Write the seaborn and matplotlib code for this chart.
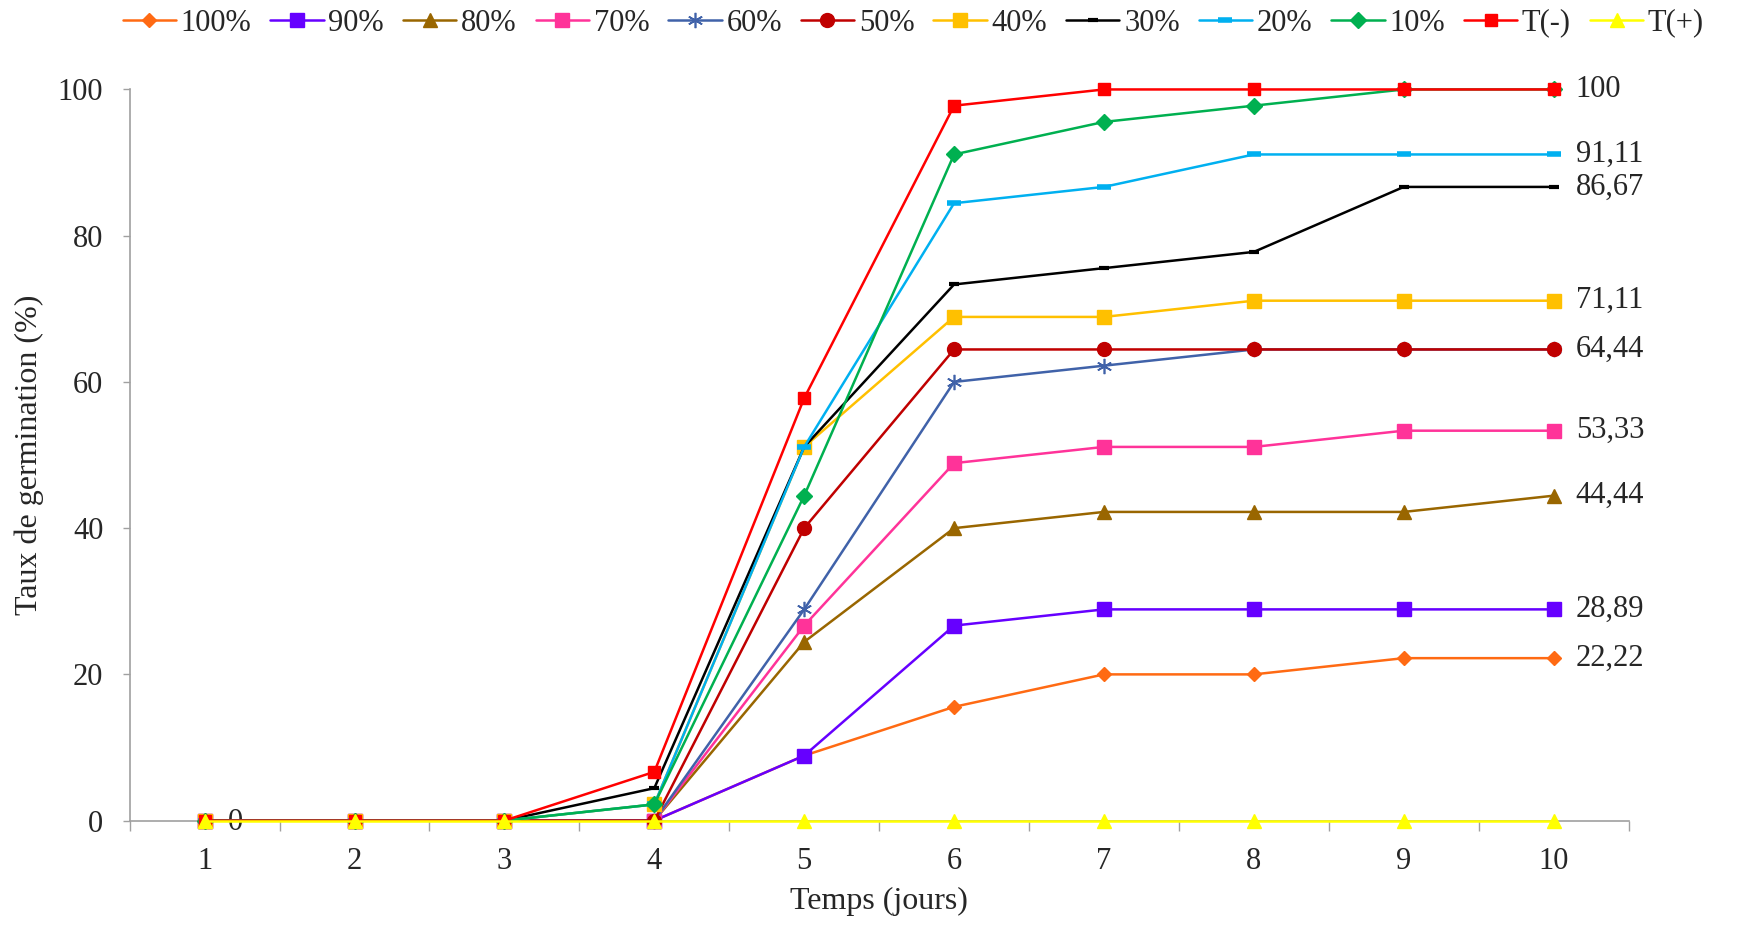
import numpy as np
import pandas as pd
import matplotlib
matplotlib.use("Agg")
import matplotlib.pyplot as plt
import seaborn as sns

# jours d'observation
jours = [1, 2, 3, 4, 5, 6, 7, 8, 9, 10]

# taux de germination (%) par traitement
series_names = ["100%", "90%", "80%", "70%", "60%", "50%", "40%", "30%", "20%", "10%", "T(-)", "T(+)"]
v100 = [0, 0, 0, 0, 8.89, 15.56, 20.00, 20.00, 22.22, 22.22]
v90 = [0, 0, 0, 0, 8.89, 26.67, 28.89, 28.89, 28.89, 28.89]
v80 = [0, 0, 0, 0, 24.44, 40.00, 42.22, 42.22, 42.22, 44.44]
v70 = [0, 0, 0, 0, 26.67, 48.89, 51.11, 51.11, 53.33, 53.33]
v60 = [0, 0, 0, 0, 28.89, 60.00, 62.22, 64.44, 64.44, 64.44]
v50 = [0, 0, 0, 0, 40.00, 64.44, 64.44, 64.44, 64.44, 64.44]
v40 = [0, 0, 0, 2.22, 51.11, 68.89, 68.89, 71.11, 71.11, 71.11]
v30 = [0, 0, 0, 4.44, 51.11, 73.33, 75.56, 77.78, 86.67, 86.67]
v20 = [0, 0, 0, 2.22, 51.11, 84.44, 86.67, 91.11, 91.11, 91.11]
v10 = [0, 0, 0, 2.22, 44.44, 91.11, 95.56, 97.78, 100, 100]
vTm = [0, 0, 0, 6.67, 57.78, 97.78, 100, 100, 100, 100]
vTp = [0, 0, 0, 0, 0, 0, 0, 0, 0, 0]
all_values = [v100, v90, v80, v70, v60, v50, v40, v30, v20, v10, vTm, vTp]

# valeurs affichées en étiquette (fin de courbe)
end_labels = ["100", "91,11", "86,67", "71,11", "64,44", "53,33", "44,44", "28,89", "22,22"]
end_label_vals = [100, 91.11, 86.67, 71.11, 64.44, 53.33, 44.44, 28.89, 22.22]

colors = ["#FF6A13", "#6600FF", "#996600", "#FF3399", "#4062A9", "#C00000",
          "#FFC000", "#000000", "#00B0F0", "#00B050", "#FF0000", "#FFFF00"]
markers = ["D", "s", "^", "s", (6, 2, 0), "o", "s", "_", "_", "D", "s", "^"]
msizes = [7, 10, 10, 10, 11, 10, 10, 7, 10, 8, 9, 10]
mews = [1, 1, 1, 1, 1.2, 1, 1, 3, 4, 1, 1, 1]

df = pd.DataFrame({
    "jour": np.tile(jours, len(series_names)),
    "serie": np.repeat(series_names, len(jours)),
    "taux": np.concatenate(all_values),
})

sns.set_style("white")
plt.rcParams["font.family"] = ["Liberation Serif", "DejaVu Serif"]

fig = plt.figure(figsize=(17.53, 9.26), dpi=100)
ax = fig.add_axes([0.074, 0.1138, 0.855, 0.7896])

for i, name in enumerate(series_names):
    sub = df[df["serie"] == name]
    sns.lineplot(data=sub, x="jour", y="taux", ax=ax, color=colors[i], label=name,
                 marker=markers[i], markersize=msizes[i], markeredgewidth=mews[i],
                 markeredgecolor=colors[i], linewidth=1.8, zorder=3 + i, clip_on=False)

ax.set_xlim(0.5, 10.5)
ax.set_ylim(0, 100)
ax.set_yticks([0, 20, 40, 60, 80, 100])
ax.set_xticks(jours)
ax.set_xticks(np.arange(0.5, 11, 1), minor=True)
ax.tick_params(axis="x", which="major", length=0, pad=19, labelsize=22)
ax.tick_params(axis="x", which="minor", length=7, width=1, color="#A0A0A0", direction="out", bottom=True)
ax.tick_params(axis="y", which="major", length=5, width=1, color="#A0A0A0", direction="out", pad=14, labelsize=22, left=True)
for s in ["top", "right"]:
    ax.spines[s].set_visible(False)
for s in ["left", "bottom"]:
    ax.spines[s].set_color("#A0A0A0")
    ax.spines[s].set_linewidth(1.2)
ax.spines["bottom"].set_zorder(1)

ax.set_xlabel("Temps (jours)", fontsize=23, labelpad=8)
ax.set_ylabel("Taux de germination (%)", fontsize=23, labelpad=10)

for txt, val in zip(end_labels, end_label_vals):
    ax.annotate(txt, xy=(jours[-1], val), xytext=(16, 0), textcoords="offset points",
                ha="left", va="center", fontsize=22)
ax.annotate("0", xy=(jours[0], 0), xytext=(17, -1), textcoords="offset points",
            ha="left", va="center", fontsize=22)

handles, labels = ax.get_legend_handles_labels()
ax.legend(handles, labels, ncol=12, loc="center", bbox_to_anchor=(0.521, 0.975),
          bbox_transform=fig.transFigure, frameon=False, fontsize=22,
          handlelength=1.75, handletextpad=0.15, columnspacing=0.62, borderaxespad=0)

fig.savefig("out.png", dpi=100)
